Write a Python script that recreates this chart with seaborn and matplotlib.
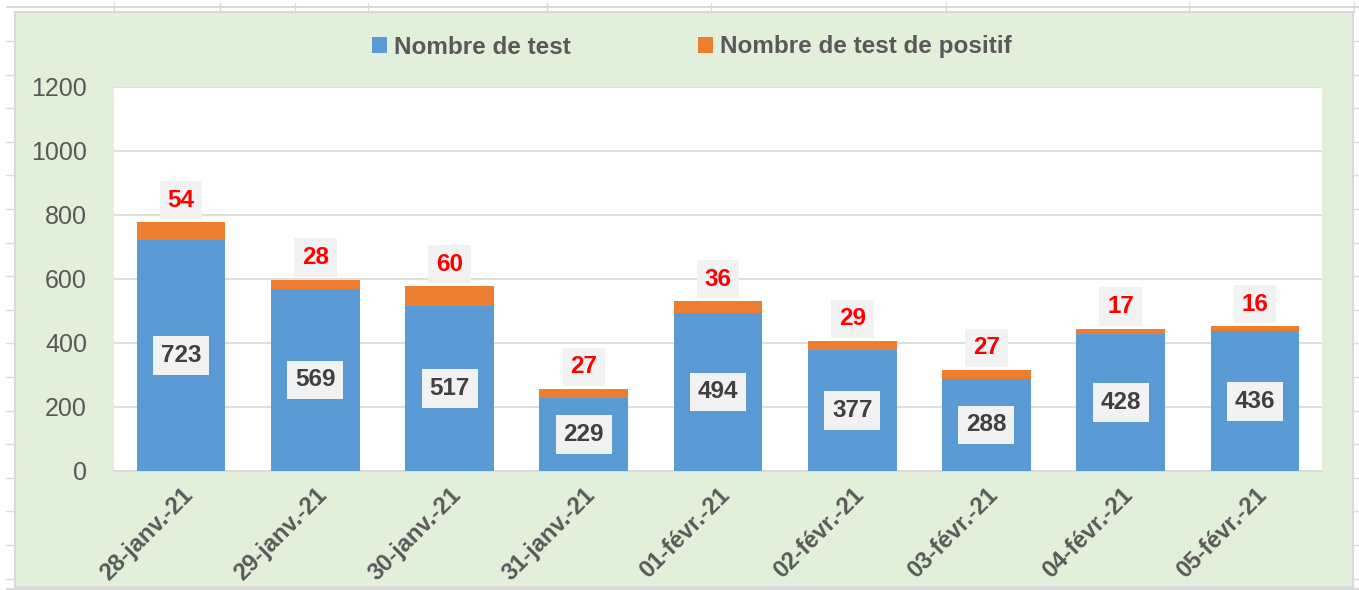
import numpy as np
import pandas as pd
import matplotlib
matplotlib.use("Agg")
import matplotlib.pyplot as plt
from matplotlib.patches import Rectangle
from matplotlib.lines import Line2D
import seaborn as sns

# données
dates = ["28-janv.-21", "29-janv.-21", "30-janv.-21", "31-janv.-21", "01-févr.-21",
         "02-févr.-21", "03-févr.-21", "04-févr.-21", "05-févr.-21"]
nb_test = [723, 569, 517, 229, 494, 377, 288, 428, 436]
nb_positif = [54, 28, 60, 27, 36, 29, 27, 17, 16]

df = pd.DataFrame({"date": dates, "test": nb_test, "positif": nb_positif})
df["total"] = df["test"] + df["positif"]

sns.set_theme(style="white")
plt.rcParams["font.family"] = ["Liberation Sans", "DejaVu Sans"]

W, H = 1359, 590
fig = plt.figure(figsize=(W / 100, H / 100), dpi=100, facecolor="white")

# fond vert du graphique + lignes de la feuille de calcul
grid_c = "#d9d9d9"
fig.add_artist(Line2D([7 / W, 1], [1 - 7 / H] * 2, color=grid_c, lw=1.5, transform=fig.transFigure))
fig.add_artist(Line2D([7 / W, 1], [1 - 589 / H] * 2, color=grid_c, lw=1.5, transform=fig.transFigure))
for xc in [114, 220, 295, 368, 547, 711, 946, 1189, 1354]:
    fig.add_artist(Line2D([xc / W] * 2, [1 - 3 / H, 1 - 12 / H], color=grid_c, lw=1, transform=fig.transFigure))
    fig.add_artist(Line2D([xc / W] * 2, [0, 1 - 587 / H], color=grid_c, lw=1, transform=fig.transFigure))
for yr in np.arange(41, 590, 33.6):
    fig.add_artist(Line2D([6 / W, 15 / W], [1 - yr / H] * 2, color=grid_c, lw=1, transform=fig.transFigure))
    fig.add_artist(Line2D([1353 / W, 1], [1 - yr / H] * 2, color=grid_c, lw=1, transform=fig.transFigure))
fig.add_artist(Rectangle((15 / W, 1 - 587 / H), (1353 - 15) / W, (587 - 12) / H,
                         transform=fig.transFigure, facecolor="#e2efda", edgecolor=grid_c, lw=1.5, zorder=0))

ax = fig.add_axes([114 / W, 1 - 471 / H, (1322 - 114) / W, (471 - 87) / H])
ax.set_facecolor("white")

blue = "#5b9bd5"
orange = "#ed7d31"
sns.barplot(data=df, x="date", y="total", color=orange, width=0.66, ax=ax,
            saturation=1, linewidth=0, label="Nombre de test de positif", zorder=3)
sns.barplot(data=df, x="date", y="test", color=blue, width=0.66, ax=ax,
            saturation=1, linewidth=0, label="Nombre de test", zorder=3)
handles, labels = ax.get_legend_handles_labels()
if ax.get_legend() is not None:
    ax.get_legend().remove()

ax.set_ylim(0, 1200)
ax.set_xlim(-0.5, len(dates) - 0.5)
ax.set_yticks(range(0, 1201, 200))
ax.yaxis.grid(True, color="#d9d9d9", lw=1.2, zorder=0)
ax.set_axisbelow(True)
for s in ["top", "right", "left"]:
    ax.spines[s].set_visible(False)
ax.spines["bottom"].set_color("#d9d9d9")
ax.spines["bottom"].set_linewidth(1.2)
ax.set_xlabel("")
ax.set_ylabel("")

ax.tick_params(axis="y", length=0, labelsize=18, labelcolor="#595959", pad=19.5)
ax.tick_params(axis="x", length=0, labelsize=17, labelcolor="#595959", pad=9)
for lab in ax.get_xticklabels():
    lab.set_rotation(45)
    lab.set_ha("right")
    lab.set_rotation_mode("anchor")
    lab.set_fontweight("bold")
ax.set_xticks(np.arange(-0.5, len(dates), 1), minor=True)
ax.tick_params(axis="x", which="minor", length=6, color="#d9d9d9", width=1.2)

# étiquettes
box = dict(boxstyle="square,pad=0.32", facecolor="#f2f2f2", edgecolor="none")
for i, (t, p) in enumerate(zip(nb_test, nb_positif)):
    ax.text(i, t / 2, str(t), ha="center", va="center", fontsize=17.5, fontweight="bold",
            color="#404040", bbox=box, zorder=5)
    ax.annotate(str(p), (i, t + p), xytext=(0, 16), textcoords="offset points",
                ha="center", va="center", fontsize=17.5, fontweight="bold",
                color="#ff0000", bbox=box, zorder=5)

# légende
order = [labels.index("Nombre de test"), labels.index("Nombre de test de positif")]
fig.legend([handles[k] for k in order], [labels[k] for k in order],
           loc="center", bbox_to_anchor=(692 / W, 1 - 47 / H), ncol=2, frameon=False,
           prop={"size": 17.5, "weight": "bold"}, labelcolor="#595959",
           handlelength=0.6, handleheight=0.6, handletextpad=0.3, columnspacing=5.25)

fig.savefig("out.png", dpi=100, facecolor="white")
